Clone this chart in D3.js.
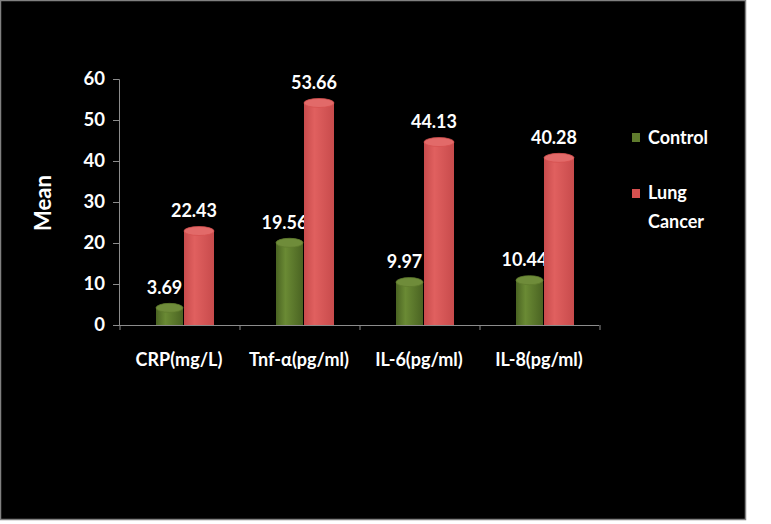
<!DOCTYPE html>
<html><head><meta charset="utf-8">
<script src="https://cdn.jsdelivr.net/npm/d3@7"></script>
<style>html,body{margin:0;padding:0;background:#fff;}svg{display:block;}</style>
</head><body><svg id="c" width="771" height="524"></svg>
<script>
const categories = ["CRP(mg/L)", "Tnf-\u03b1(pg/ml)", "IL-6(pg/ml)", "IL-8(pg/ml)"];
const seriesNames = ["Control", "Lung Cancer"];
const control = [3.69, 19.56, 9.97, 10.44];
const lungCancer = [22.43, 53.66, 44.13, 40.28];
const yTicks = [0, 10, 20, 30, 40, 50, 60];
const yLabel = "Mean";

const font = "Lato, 'Open Sans', sans-serif";
const svg = d3.select("#c");
svg.append("rect").attr("x",0.5).attr("y",0.5).attr("width",745).attr("height",519)
  .attr("fill","#000").attr("stroke","#808080").attr("stroke-width",1.5);

const y = d3.scaleLinear().domain([0,60]).range([325,79]);
const x = d3.scaleBand().domain(categories).range([119,599]).padding(0);
const defs = svg.append("defs");
function grad(id, dark, light){
  const g = defs.append("linearGradient").attr("id",id).attr("x1","0").attr("x2","1").attr("y1","0").attr("y2","0");
  g.append("stop").attr("offset","0%").attr("stop-color",dark);
  g.append("stop").attr("offset","35%").attr("stop-color",light);
  g.append("stop").attr("offset","100%").attr("stop-color",dark);
}
grad("gG","#4a6322","#6a8a34");
grad("gR","#c84b4c","#e0605f");
const colors = ["#5f7b2d","#d6504f"];
const tops = ["#6f8c3a","#e26a69"];

// y axis
const yAxis = d3.axisLeft(y).tickValues(yTicks).tickSize(6).tickPadding(8);
const ya = svg.append("g").attr("transform","translate(119,0)").call(yAxis);
ya.select(".domain").attr("stroke","#8c8c8c");
ya.selectAll(".tick line").attr("stroke","#8c8c8c");
ya.selectAll(".tick text").attr("fill","#fff").attr("font-family",font).attr("font-weight","bold").attr("font-size","18.5px");

// x axis
const xa = svg.append("g").attr("transform","translate(0,325)");
const bounds = categories.map(c=>x(c)).concat([x.range()[1]]);
xa.selectAll("line.t").data(bounds).enter().append("line").attr("class","t")
  .attr("x1",d=>d+1).attr("x2",d=>d+1).attr("y1",0).attr("y2",5).attr("stroke","#8c8c8c");
xa.selectAll("text").data(categories).enter().append("text")
  .attr("x",c=>x(c)+x.bandwidth()/2).attr("y",41).attr("text-anchor","middle")
  .attr("fill","#fff").attr("font-family",font).attr("font-weight","bold").attr("font-size","18px").text(c=>c);

// bars (cylinders)
const series = [control, lungCancer];
const offs = [[37,27],[65,30]];
const gids = ["url(#gG)","url(#gR)"];
series.forEach((vals,si)=>{
  const g = svg.append("g");
  vals.forEach((v,i)=>{
    const x0 = x(categories[i]) + offs[si][0], w = offs[si][1];
    const yt = y(v) - 2, yb = 325, ry = 4.5;
    g.append("path")
      .attr("d",`M${x0},${yt} L${x0},${yb} L${x0+w},${yb} L${x0+w},${yt} Z`)
      .attr("fill",gids[si]);
    g.append("ellipse").attr("cx",x0+w/2).attr("cy",yt).attr("rx",w/2).attr("ry",ry)
      .attr("fill",tops[si]).attr("stroke",colors[si]).attr("stroke-width",0.8);
    svg.append("text").attr("x",x0+w/2-5).attr("y",y(v)-16).attr("text-anchor","middle")
      .attr("fill","#fff").attr("font-family",font).attr("font-weight","bold").attr("font-size","18px").text(v.toFixed(2));
  });
});
svg.append("line").attr("x1",119).attr("x2",599).attr("y1",325.5).attr("y2",325.5).attr("stroke","#8c8c8c");

// y label
svg.append("text").attr("transform","translate(51,203) rotate(-90)").attr("text-anchor","middle")
  .attr("fill","#fff").attr("font-family",font).attr("font-weight","bold").attr("font-size","22px").text(yLabel);

// legend
const leg = svg.append("g");
leg.append("rect").attr("x",632).attr("y",133).attr("width",8).attr("height",9).attr("fill",colors[0]);
leg.append("text").attr("x",648).attr("y",144).attr("fill","#fff").attr("font-family",font).attr("font-weight","bold").attr("font-size","18px").text(seriesNames[0]);
leg.append("rect").attr("x",632).attr("y",189).attr("width",8).attr("height",9).attr("fill",colors[1]);
const lt = leg.append("text").attr("fill","#fff").attr("font-family",font).attr("font-weight","bold").attr("font-size","18px");
seriesNames[1].split(" ").forEach((w,i)=>lt.append("tspan").attr("x",648).attr("y",199+i*29).text(w));
</script></body></html>
